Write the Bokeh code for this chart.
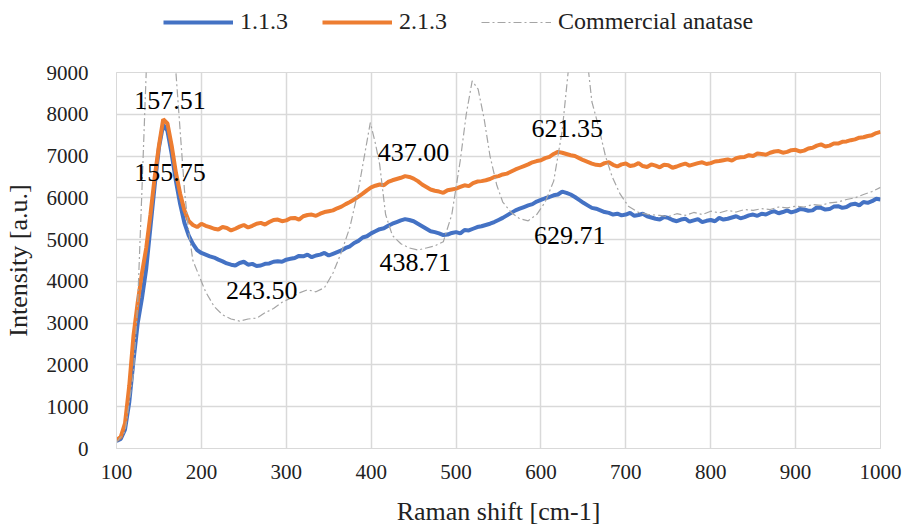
from bokeh.plotting import figure
from bokeh.layouts import column
from bokeh.models import Legend, LegendItem, FixedTicker, ColumnDataSource
from bokeh.core.properties import value
from bokeh.embed import file_html
from bokeh.resources import INLINE

# ---------------- data ----------------
raman_shift = list(range(100, 1001, 5))  # 5 cm-1 sampling of the spectra

s113 = [180, 230, 450, 1100, 2100, 3000, 3600, 4300, 5300, 6300, 7200, 7750, 7600, 7050, 6400, 5850, 5400, 5100, 4900, 4750,
        4680, 4640, 4600, 4570, 4520, 4480, 4430, 4400, 4380, 4440, 4470, 4400, 4420, 4370, 4380, 4420, 4430, 4470, 4480, 4470,
        4520, 4540, 4560, 4610, 4600, 4640, 4580, 4620, 4640, 4680, 4620, 4660, 4700, 4740, 4800, 4840, 4920, 4970, 5050, 5080,
        5150, 5200, 5250, 5270, 5330, 5380, 5420, 5460, 5490, 5470, 5440, 5380, 5320, 5260, 5200, 5180, 5150, 5110, 5120, 5160,
        5180, 5150, 5230, 5220, 5260, 5300, 5320, 5350, 5380, 5420, 5470, 5520, 5580, 5640, 5700, 5740, 5780, 5820, 5850, 5910,
        5950, 5990, 6020, 6060, 6080, 6150, 6120, 6080, 6020, 5950, 5880, 5820, 5760, 5740, 5700, 5660, 5640, 5600, 5620, 5580,
        5600, 5640, 5570, 5590, 5620, 5560, 5530, 5500, 5480, 5540, 5520, 5470, 5440, 5480, 5500, 5430, 5460, 5490, 5420, 5450,
        5470, 5440, 5520, 5480, 5500, 5530, 5560, 5510, 5540, 5580, 5600, 5570, 5620, 5600, 5650, 5680, 5630, 5660, 5700, 5650,
        5680, 5730, 5720, 5690, 5700, 5770, 5760, 5720, 5730, 5790, 5800, 5760, 5780, 5840, 5860, 5820, 5900, 5880, 5920, 5980,
        5960]

s213 = [200, 280, 600, 1500, 2700, 3500, 4200, 4800, 5600, 6500, 7250, 7880, 7780, 7250, 6600, 6100, 5700, 5450, 5350, 5300,
        5380, 5330, 5300, 5260, 5240, 5300, 5280, 5220, 5260, 5310, 5350, 5290, 5330, 5380, 5400, 5360, 5420, 5470, 5480, 5440,
        5460, 5510, 5520, 5480, 5560, 5590, 5600, 5570, 5620, 5660, 5680, 5700, 5750, 5790, 5850, 5900, 5960, 6030, 6100, 6180,
        6250, 6290, 6320, 6300, 6380, 6420, 6450, 6480, 6520, 6500, 6460, 6400, 6320, 6260, 6200, 6170, 6150, 6120, 6180, 6200,
        6220, 6260, 6300, 6280, 6350, 6390, 6400, 6420, 6450, 6500, 6520, 6560, 6580, 6630, 6680, 6720, 6760, 6800, 6850, 6880,
        6900, 6950, 6980, 7050, 7100, 7080, 7050, 7020, 7000, 6950, 6900, 6860, 6820, 6790, 6780, 6830, 6850, 6790, 6750, 6800,
        6820, 6760, 6780, 6830, 6760, 6740, 6800, 6770, 6730, 6790, 6780, 6720, 6750, 6790, 6820, 6770, 6800, 6830, 6850, 6810,
        6830, 6870, 6880, 6900, 6920, 6890, 6950, 6970, 6980, 7020, 7000, 7060, 7050, 7030, 7080, 7110, 7120, 7080, 7100, 7140,
        7150, 7110, 7130, 7180, 7200, 7250, 7280, 7230, 7250, 7300, 7300, 7340, 7350, 7380, 7400, 7440, 7450, 7480, 7500, 7550,
        7580]

anatase_shift = [100, 110, 120, 125, 130, 135, 140, 145, 150, 155, 160, 165, 170, 175, 180, 185, 190, 197, 205, 215,
                 225, 235, 245, 255, 265, 275, 285, 295, 305, 315, 325, 335, 345, 355, 365, 375, 385, 392, 399, 405,
                 410, 417, 425, 435, 445, 455, 465, 475, 485, 495, 505, 512, 519, 526, 533, 540, 548, 555, 565, 575,
                 585, 595, 605, 615, 625, 632, 639, 646, 653, 660, 668, 676, 684, 693, 703, 715, 727, 740, 750, 760,
                 770, 780, 790, 800, 810, 820, 830, 840, 850, 860, 870, 880, 890, 900, 910, 920, 930, 940, 950, 960,
                 970, 980, 990, 1000]

anatase = [150, 400, 1800, 3500, 6200, 9000, 12000, 13500, 13000, 12000, 10800, 9800, 9000, 7600, 6200, 5200, 4500, 4150, 3750, 3400,
           3200, 3100, 3050, 3100, 3120, 3250, 3350, 3500, 3600, 3720, 3800, 3750, 3850, 4200, 4700, 5300, 6200, 7000, 7800, 7300,
           6800, 5600, 5100, 4900, 4800, 4750, 4800, 4850, 4950, 5600, 6900, 8000, 8800, 8600, 7900, 7000, 6300, 5900, 5650, 5500,
           5450, 5600, 5900, 6400, 7600, 9000, 10200, 10500, 9600, 8300, 7700, 7000, 6500, 6100, 5800, 5650, 5600, 5580, 5550, 5620,
           5580, 5650, 5600, 5680, 5640, 5700, 5660, 5720, 5700, 5740, 5720, 5780, 5760, 5800, 5780, 5840, 5820, 5880, 5900, 5960,
           6000, 6080, 6150, 6250]

series_names = ["1.1.3", "2.1.3", "Commercial anatase"]

x_ticks = [100, 200, 300, 400, 500, 600, 700, 800, 900, 1000]
y_ticks = [0, 1000, 2000, 3000, 4000, 5000, 6000, 7000, 8000, 9000]

peak_labels = ["157.51", "155.75", "243.50", "437.00", "438.71", "621.35", "629.71"]
peak_label_x = [163, 163, 271, 450, 452, 631, 634]
peak_label_y = [8330, 6600, 3780, 7080, 4450, 7660, 5100]

# ---------------- styling ----------------
FONT = "Liberation Serif"
BLUE = "#4472C4"
ORANGE = "#ED7D31"
GRAY = "#A5A5A5"
GRID = "#D9D9D9"
LINE_STYLES = [dict(line_color=BLUE, line_width=4),
               dict(line_color=ORANGE, line_width=4),
               dict(line_color=GRAY, line_width=1.2, line_dash="8 3 2 3")]

# ---------------- main chart ----------------
p = figure(width=906, height=485, output_backend="svg", toolbar_location=None,
           x_range=(100, 1000), y_range=(0, 9000),
           min_border_left=112, min_border_right=26, min_border_top=28, min_border_bottom=81)

p.background_fill_color = "white"
p.border_fill_color = "white"
p.outline_line_color = GRID

p.line(raman_shift, s113, **LINE_STYLES[0])
p.line(raman_shift, s213, **LINE_STYLES[1])
p.line(anatase_shift, anatase, **LINE_STYLES[2])

src = ColumnDataSource(dict(x=peak_label_x, y=peak_label_y, t=peak_labels))
p.text(x="x", y="y", text="t", source=src, text_font=value(FONT), text_font_size="26px",
       text_align="center", text_baseline="middle", text_color="#000000")

p.xaxis.ticker = FixedTicker(ticks=x_ticks)
p.yaxis.ticker = FixedTicker(ticks=y_ticks)
for ax in (p.xaxis[0], p.yaxis[0]):
    ax.axis_line_color = GRID
    ax.major_tick_line_color = None
    ax.minor_tick_line_color = None
    ax.major_label_text_font = FONT
    ax.major_label_text_font_size = "21px"
    ax.major_label_text_color = "#222222"
    ax.axis_label_text_font = FONT
    ax.axis_label_text_font_size = "26px"
    ax.axis_label_text_font_style = "normal"
    ax.axis_label_text_color = "#222222"

p.xaxis.axis_label = "Raman shift [cm-1]"
p.yaxis.axis_label = "Intensity [a.u.]"
p.xaxis.major_label_standoff = 10
p.xaxis.axis_label_standoff = 15
p.yaxis.major_label_standoff = 22
p.yaxis.axis_label_standoff = 11

p.xgrid.grid_line_color = GRID
p.ygrid.grid_line_color = GRID
p.xgrid.grid_line_width = 1.5
p.ygrid.grid_line_width = 1.5

# ---------------- legend strip above the chart ----------------
# Same series, drawn in a strip whose ranges keep them out of view; only the legend shows.
lg = figure(width=906, height=44, output_backend="svg", toolbar_location=None,
            x_range=(0, 1), y_range=(0, 1),
            min_border_left=0, min_border_right=0, min_border_top=0, min_border_bottom=0)
lg.axis.visible = False
lg.grid.visible = False
lg.outline_line_color = None
lg.background_fill_color = "white"
lg.border_fill_color = "white"

lr1 = lg.line(raman_shift, s113, **LINE_STYLES[0])
lr2 = lg.line(raman_shift, s213, **LINE_STYLES[1])
lr3 = lg.line(anatase_shift, anatase, **LINE_STYLES[2])

legend = Legend(items=[LegendItem(label=series_names[0], renderers=[lr1]),
                       LegendItem(label=series_names[1], renderers=[lr2]),
                       LegendItem(label=series_names[2], renderers=[lr3])],
                orientation="horizontal", location=(47, 9),
                glyph_width=70, glyph_height=20, label_standoff=7, spacing=34,
                padding=0, margin=0, border_line_color=None, background_fill_alpha=0,
                label_text_font=FONT, label_text_font_size="24px", label_text_color="#222222")
lg.add_layout(legend, "center")

layout = column(lg, p, spacing=0)
open("out.html", "w").write(file_html(layout, INLINE))
